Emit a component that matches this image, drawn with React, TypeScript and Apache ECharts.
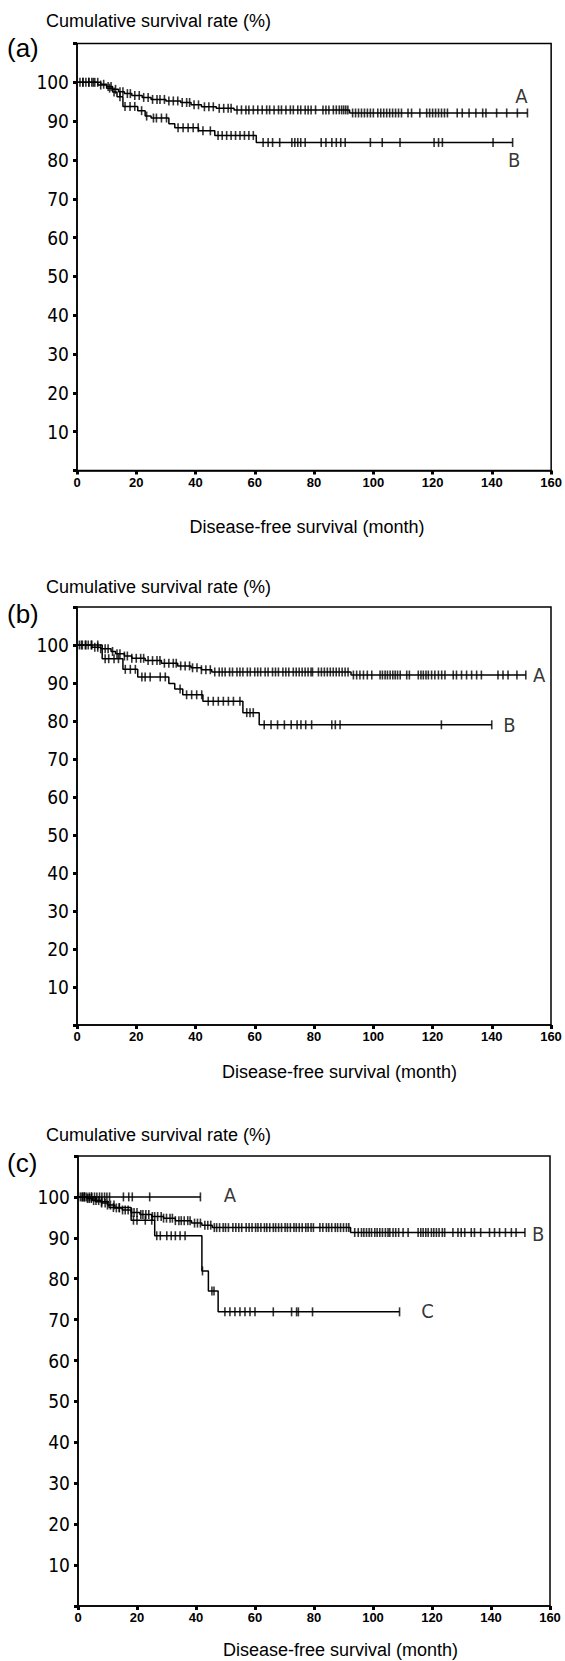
import React, { useEffect, useRef } from "react";
import * as echarts from "echarts";

type Pt = [number, number];

// ---------- Panel (a) ----------
const aA_steps: Pt[] = [[0, 100], [8, 99.5], [10, 98.9], [12, 98.2], [14, 97.6], [16, 97.1], [18.5, 96.6], [22, 96.1], [25, 95.6], [30, 95.2], [35, 94.8], [38.5, 94.2], [42, 93.7], [47, 93.3], [53, 92.9], [92, 92.1]];
const aA_end = 152;
const aA_cens: number[] = [1, 2, 3, 4, 5, 6, 7, 9, 10.5, 11.5, 13, 14.5, 15.5, 17, 18, 19.5, 21, 22.5, 24, 25.5, 27, 28, 29.5, 31, 32.5, 34, 35.5, 37, 38, 39.5, 41, 43, 44.5, 46, 48, 49.5, 51, 52, 54, 55.5, 57, 58, 59.5, 61, 62.5, 64, 65, 66.5, 68, 69, 70.5, 72, 73, 74.5, 75.5, 77, 78, 79, 80.5, 83, 84, 85, 86.5, 87.5, 88.5, 89.3, 90, 90.7, 91.4,
  93, 94, 95, 96, 97, 98, 99, 100, 101.5, 102.5, 103.5, 104.5, 105.5, 106.5, 107.5, 108.5, 109.5, 111.7, 112.9, 115.7, 118, 119, 120, 121, 122, 123, 124, 125, 128.3, 130, 132.3, 134.6, 136.9, 138, 141.6, 145, 148.6, 152];

const aB_steps: Pt[] = [[0, 100], [7, 99.3], [10, 98.5], [12, 97.5], [13.5, 96.3], [15.5, 93.8], [20.5, 92.7], [23, 91.3], [25, 90.8], [31, 89.3], [33, 88.3], [41, 87.5], [46.5, 86.3], [60.5, 84.5]];
const aB_end = 147;
const aB_cens: number[] = [2, 4, 5.5, 8, 11, 12.5, 14.5, 16.2, 17.9, 19.5, 21.8, 23.5, 25.8, 26.8, 28.5, 30.2, 34.1, 35.8, 37.5, 39.2, 40.9, 42.5, 45, 47.6, 49, 50.5, 52, 53.5, 55, 56.5, 58, 59.5, 62.8, 64.5, 66, 68.4, 72.5, 73.5, 74.5, 75.5, 77, 82.4, 84, 86, 87.5, 89, 90.5, 99, 103, 109, 120.5, 122, 123.3, 140.4, 147];

// ---------- Panel (b) ----------
const bA_steps: Pt[] = [[0, 100], [5, 99.4], [8, 99], [11.5, 98.3], [13, 97.7], [16, 97.1], [18.5, 96.5], [23, 95.9], [28.5, 95.2], [34, 94.5], [38.5, 94], [42, 93.5], [45.5, 92.9], [92.5, 92.1]];
const bA_end = 151.5;
const bA_cens: number[] = [0.8, 1.8, 2.8, 3.8, 4.8, 6, 7, 8, 9.5, 10.5, 12, 13.5, 14.5, 16, 17, 18.5, 20, 21.5, 22.5, 24, 25.5, 27, 28, 29.5, 31, 32.5, 33.5, 35, 36.5, 38, 39, 40.5, 42, 43.5, 45, 46.5, 48, 49, 50, 51.5, 52.5, 54, 55, 56, 57.5, 58.5, 60, 61, 62, 63.5, 64.5, 66, 67, 68, 69.5, 70.5, 71.5, 73, 74, 75, 76, 77, 78, 79, 79.5, 81.5, 82.5, 83.5, 84.5, 85.5, 86.5, 87.5, 88.5, 89.5, 90.5, 91.5,
  93.3, 94.4, 95.5, 96.7, 98, 99.5, 102.3, 103.1, 104, 104.8, 105.7, 106.6, 107.4, 108.2, 109.1, 111.3, 112.2, 115.2, 116.1, 116.9, 117.8, 118.6, 119.7, 120.8, 122, 123.1, 124.2, 127, 128.1, 129.8, 131.5, 133.2, 134.9, 136.5, 142.1, 143.8, 145.5, 148.5, 151.5];

const bB_steps: Pt[] = [[0, 100], [8.5, 96.4], [15.5, 93.6], [20.5, 91.6], [31, 89.9], [33, 88.4], [35.7, 86.9], [42.5, 85.2], [56, 82.2], [61.5, 79]];
const bB_end = 140;
const bB_cens: number[] = [1.5, 3, 5, 7, 9.5, 10.7, 12.5, 14, 16.3, 18, 19.7, 21.9, 23, 24.7, 28.1, 29.8, 34.8, 37, 38.7, 40.4, 42.1, 44.3, 46, 47.7, 49.4, 51.1, 52.8, 55, 57.3, 58.4, 59.5, 63.2, 65.5, 67.7, 70, 72.3, 74.3, 75.6, 77.2, 79.2, 86, 87.2, 88.8, 123, 140];

// ---------- Panel (c) ----------
const cA_steps: Pt[] = [[0, 100]];
const cA_end = 41.5;
const cA_cens: number[] = [1.4, 2.2, 3, 3.8, 4.7, 5.6, 6.4, 7.3, 8.1, 9, 9.8, 10.7, 15.4, 17.2, 18.4, 24.3, 41.5];

const cB_steps: Pt[] = [[0, 100], [3, 99.6], [5, 99.1], [8, 98.5], [10, 98], [12.5, 97.3], [15, 96.8], [18, 96.2], [21, 95.7], [25, 95.2], [29, 94.8], [33, 94.2], [38.5, 93.6], [42, 93.1], [45.5, 92.5], [92.4, 91.3]];
const cB_end = 151.5;
const cB_cens: number[] = [0.8, 1.5, 2.3, 3.2, 3.8, 4.5, 5.3, 6.1, 7, 8, 9.2, 10, 11, 12.2, 13, 14, 15.1, 16, 17, 18.2, 19, 20, 21.3, 22, 23, 24, 25.2, 26, 27, 28.2, 29, 30, 31.2, 32, 33, 34.2, 35, 36, 37.2, 38, 39.5, 40.5, 41.5, 43, 44, 45, 46.2, 47, 48, 49.2, 50, 51, 52.5, 53.5, 54.5, 55.5, 57, 58, 59, 60.2, 61, 62, 63.2, 64, 65, 66.2, 67, 68, 69, 70.2, 71, 72, 73.2, 74, 75, 76, 77.2, 78, 79, 79.8, 82, 83, 84.2, 85, 86, 87.2, 88, 89, 90, 91, 91.8,
  93.8, 95, 96.1, 96.9, 97.8, 98.7, 99.5, 100.6, 101.4, 102.3, 103.2, 104.2, 105.1, 105.7, 106.8, 107.7, 108.7, 110.2, 111.9, 115.3, 116.2, 117, 117.9, 118.7, 119.8, 120.6, 121.5, 122.4, 123.5, 124.3, 127.1, 128.8, 129.9, 131.1, 133.3, 134.4, 136.5, 139.5, 141.2, 142.9, 144.9, 146.9, 148.5, 151.5];

const cC_steps: Pt[] = [[0, 100], [6, 98.8], [10.5, 97.4], [18, 94.3], [26, 90.5], [42, 81.9], [44.2, 77.0], [47.5, 71.9]];
const cC_end = 109;
const cC_cens: number[] = [2, 4.5, 8, 12, 14, 18.8, 20, 22.8, 25, 26.7, 27.9, 30.1, 31.6, 33, 34.6, 36.3, 42.2, 45.4, 46.1, 49.8, 51.5, 53.2, 54.9, 56.6, 58.3, 60, 66.2, 72.4, 74.1, 74.7, 79.5, 109];

const panelTags = ["(a)", "(b)", "(c)"];
const yTitle = "Cumulative survival rate (%)";
const xTitle = "Disease-free survival (month)";

const FONT = "'Liberation Sans', Arial, sans-serif";
const NARROW = "'Liberation Sans Narrow', 'DejaVu Sans Condensed', 'Liberation Sans', sans-serif";

function survivalAt(steps: Pt[], t: number): number {
  let v = steps[0][1];
  for (const [s, val] of steps) if (s <= t) v = val;
  return v;
}

function lineS(steps: Pt[], end: number, i: number) {
  return {
    type: "line",
    xAxisIndex: i,
    yAxisIndex: i,
    step: "end",
    data: [...steps, [end, steps[steps.length - 1][1]]],
    showSymbol: false,
    symbol: "none",
    silent: true,
    lineStyle: { color: "#000", width: 1.5 },
    z: 2,
  };
}

function censS(steps: Pt[], cens: number[], i: number) {
  return {
    type: "scatter",
    xAxisIndex: i,
    yAxisIndex: i,
    data: cens.map((t) => [t, survivalAt(steps, t)]),
    symbol: "rect",
    symbolSize: [1.6, 9],
    silent: true,
    itemStyle: { color: "#000" },
    z: 3,
  };
}

function labelS(labels: { name: string; at: Pt }[], i: number) {
  return {
    type: "scatter",
    xAxisIndex: i,
    yAxisIndex: i,
    data: labels.map((l) => ({ name: l.name, value: l.at })),
    symbolSize: 0,
    silent: true,
    label: {
      show: true,
      position: "inside",
      formatter: "{b}",
      color: "#000",
      fontSize: 20,
      fontFamily: NARROW,
    },
    z: 4,
  };
}

const grids = [
  { left: 77, top: 43.5, width: 475, height: 427 },
  { left: 77, top: 607, width: 474, height: 418 },
  { left: 78, top: 1156, width: 472, height: 450 },
];

const textPos = [
  { yt: [46, 21], tag: [7, 47.5], xt: [307, 527] },
  { yt: [46, 587], tag: [7, 613.5], xt: [339.5, 1072] },
  { yt: [46, 1135], tag: [7, 1163], xt: [340.5, 1650] },
];

export default function App() {
  const ref = useRef<HTMLDivElement>(null);
  useEffect(() => {
    if (!ref.current) return;
    const chart = echarts.init(ref.current, null, { renderer: "svg" });
    const xAxis = grids.map((_, i) => ({
      type: "value",
      gridIndex: i,
      min: 0,
      max: 160,
      interval: 20,
      axisLine: { show: true, onZero: false, lineStyle: { color: "#000", width: 1.5 } },
      axisTick: { show: true, length: 4, lineStyle: { color: "#000", width: 3 } },
      axisLabel: { color: "#000", fontSize: 13, fontWeight: "bold", fontFamily: FONT, margin: 5 },
      splitLine: { show: false },
    }));
    const yAxis = grids.map((_, i) => ({
      type: "value",
      gridIndex: i,
      min: 0,
      max: 110,
      interval: 10,
      axisLine: { show: true, onZero: false, lineStyle: { color: "#000", width: 1.5 } },
      axisTick: { show: true, length: 4, lineStyle: { color: "#000", width: 3 } },
      axisLabel: {
        color: "#000",
        fontSize: 19,
        fontFamily: NARROW,
        margin: 8,
        formatter: (v: number) => (v === 0 || v === 110 ? "" : String(v)),
      },
      splitLine: { show: false },
    }));
    const graphic: any[] = [];
    textPos.forEach((p, i) => {
      graphic.push({
        type: "text",
        x: p.yt[0],
        y: p.yt[1],
        style: { text: yTitle, fontSize: 18, fontFamily: FONT, fill: "#000", align: "left", verticalAlign: "middle" },
      });
      graphic.push({
        type: "text",
        x: p.tag[0],
        y: p.tag[1],
        style: { text: panelTags[i], fontSize: 26, fontFamily: FONT, fill: "#000", align: "left", verticalAlign: "middle" },
      });
      graphic.push({
        type: "text",
        x: p.xt[0],
        y: p.xt[1],
        style: { text: xTitle, fontSize: 18, fontFamily: FONT, fill: "#000", align: "center", verticalAlign: "middle" },
      });
    });
    const series: any[] = [
      lineS(aA_steps, aA_end, 0), censS(aA_steps, aA_cens, 0),
      lineS(aB_steps, aB_end, 0), censS(aB_steps, aB_cens, 0),
      labelS([{ name: "A", at: [150, 96.5] }, { name: "B", at: [147.5, 80] }], 0),
      lineS(bA_steps, bA_end, 1), censS(bA_steps, bA_cens, 1),
      lineS(bB_steps, bB_end, 1), censS(bB_steps, bB_cens, 1),
      labelS([{ name: "A", at: [156, 92] }, { name: "B", at: [146, 79] }], 1),
      lineS(cA_steps, cA_end, 2), censS(cA_steps, cA_cens, 2),
      lineS(cB_steps, cB_end, 2), censS(cB_steps, cB_cens, 2),
      lineS(cC_steps, cC_end, 2), censS(cC_steps, cC_cens, 2),
      labelS([{ name: "A", at: [51.5, 100.5] }, { name: "B", at: [156, 91] }, { name: "C", at: [118.5, 72] }], 2),
    ];
    chart.setOption({
      animation: false,
      backgroundColor: "#fff",
      grid: grids.map((g) => ({ ...g, show: true, borderColor: "#000", borderWidth: 1.5, backgroundColor: "transparent" })),
      xAxis,
      yAxis,
      series,
      graphic,
    } as any);
    return () => chart.dispose();
  }, []);
  return (
    <div
      ref={ref}
      style={{ position: "absolute", left: 0, top: 0, width: 565, height: 1661, background: "#fff" }}
    />
  );
}
